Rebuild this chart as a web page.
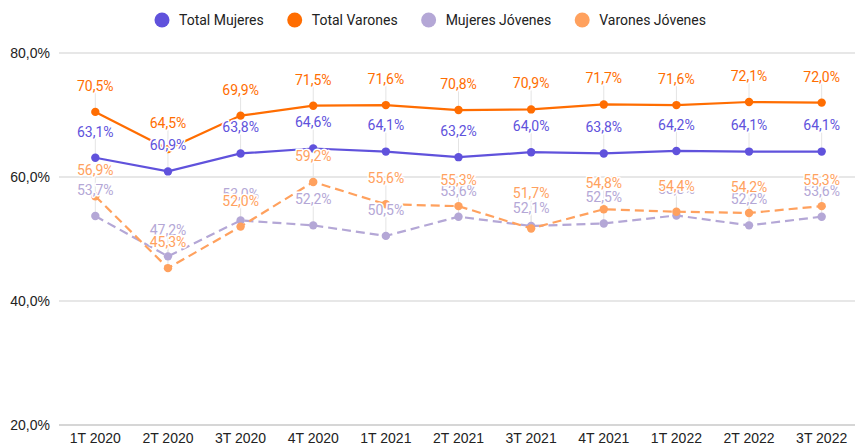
<!DOCTYPE html>
<html>
<head>
<meta charset="utf-8">
<script src="https://cdn.jsdelivr.net/npm/d3@7"></script>
<style>
  body { margin: 0; background: #fff; }
  svg { display: block; }
</style>
</head>
<body>
<div id="chart"></div>
<script>
const quarters = ["1T 2020", "2T 2020", "3T 2020", "4T 2020", "1T 2021", "2T 2021",
  "3T 2021", "4T 2021", "1T 2022", "2T 2022", "3T 2022"];
const seriesNames = ["Total Mujeres", "Total Varones", "Mujeres Jóvenes", "Varones Jóvenes"];
const totalMujeres = [63.1, 60.9, 63.8, 64.6, 64.1, 63.2, 64.0, 63.8, 64.2, 64.1, 64.1];
const totalVarones = [70.5, 64.5, 69.9, 71.5, 71.6, 70.8, 70.9, 71.7, 71.6, 72.1, 72.0];
const mujeresJovenes = [53.7, 47.2, 53.0, 52.2, 50.5, 53.6, 52.1, 52.5, 53.8, 52.2, 53.6];
const varonesJovenes = [56.9, 45.3, 52.0, 59.2, 55.6, 55.3, 51.7, 54.8, 54.4, 54.2, 55.3];
const yTicks = [20, 40, 60, 80];

const colors = ["#6052dc", "#ff6d01", "#b4a7d6", "#ffa15e"];
const dashed = [false, false, true, true];
const series = [totalMujeres, totalVarones, mujeresJovenes, varonesJovenes].map((values, i) => ({
  name: seriesNames[i],
  color: colors[i],
  dashed: dashed[i],
  values: values.map((v, j) => ({ q: quarters[j], v: v })),
}));

const width = 855;
const height = 446;
const margin = { top: 53, right: -3, bottom: 21, left: 59 };

const svg = d3
  .select("#chart")
  .append("svg")
  .attr("width", width)
  .attr("height", height);

const x = d3
  .scaleBand()
  .domain(quarters)
  .range([margin.left, width - margin.right]);

const y = d3
  .scaleLinear()
  .domain([20, 80])
  .range([height - margin.bottom, margin.top]);

const fmt = (v) => d3.format(".1f")(v).replace(".", ",") + "%";
const cx = (d) => x(d.q) + x.bandwidth() / 2;

// gridlines
svg
  .append("g")
  .selectAll("line")
  .data(yTicks)
  .enter()
  .append("line")
  .attr("x1", margin.left)
  .attr("x2", width)
  .attr("y1", (d) => y(d))
  .attr("y2", (d) => y(d))
  .attr("stroke", (d) => (d === 20 ? "#c8c8c8" : "#d0d0d0"))
  .attr("stroke-width", (d) => (d === 20 ? 1.6 : 1.2));

// y axis labels
svg
  .append("g")
  .selectAll("text")
  .data(yTicks)
  .enter()
  .append("text")
  .attr("x", 50)
  .attr("y", (d) => y(d))
  .attr("dy", "0.35em")
  .attr("text-anchor", "end")
  .attr("font-family", "Liberation Sans, Arial, sans-serif")
  .attr("font-size", 14)
  .attr("fill", "#222")
  .text((d) => fmt(d));

// x axis labels
svg
  .append("g")
  .selectAll("text")
  .data(quarters)
  .enter()
  .append("text")
  .attr("x", (d) => x(d) + x.bandwidth() / 2)
  .attr("y", 443)
  .attr("text-anchor", "middle")
  .attr("font-family", "Liberation Sans, Arial, sans-serif")
  .attr("font-size", 14)
  .attr("fill", "#222")
  .text((d) => d);

// labels sit 26px above the point; where the two young series nearly coincide
// the sheet pushes them apart
const labelOffset = (s, d) => {
  const other = s.values === undefined ? null : null;
  if (s.dashed) {
    const a = mujeresJovenes[quarters.indexOf(d.q)];
    const b = varonesJovenes[quarters.indexOf(d.q)];
    if (Math.abs(a - b) < 0.5) {
      return d.v === Math.min(a, b) ? 35 : 18;
    }
  }
  return 26;
};

// leader lines
series.forEach((s) => {
  svg
    .append("g")
    .selectAll("line")
    .data(s.values)
    .enter()
    .append("line")
    .attr("x1", cx)
    .attr("x2", cx)
    .attr("y1", (d) => y(d.v) - labelOffset(s, d) + 7)
    .attr("y2", (d) => y(d.v))
    .attr("stroke", "#e4e4e4")
    .attr("stroke-width", 1);
});

const line = d3
  .line()
  .x(cx)
  .y((d) => y(d.v));

series.forEach((s) => {
  svg
    .append("path")
    .datum(s.values)
    .attr("fill", "none")
    .attr("stroke", s.color)
    .attr("stroke-width", 2.2)
    .attr("stroke-dasharray", s.dashed ? "9,5" : null)
    .attr("d", line);

  svg
    .append("g")
    .selectAll("circle")
    .data(s.values)
    .enter()
    .append("circle")
    .attr("cx", cx)
    .attr("cy", (d) => y(d.v))
    .attr("r", 4.2)
    .attr("fill", s.color);
});

// data labels
series.forEach((s) => {
  svg
    .append("g")
    .selectAll("text")
    .data(s.values)
    .enter()
    .append("text")
    .attr("x", cx)
    .attr("y", (d) => y(d.v) - labelOffset(s, d))
    .attr("dy", "0.35em")
    .attr("text-anchor", "middle")
    .attr("font-family", "Roboto, sans-serif")
    .attr("font-size", 14)
    .attr("fill", s.color)
    .attr("stroke", "#fff")
    .attr("stroke-width", 3)
    .attr("stroke-linejoin", "round")
    .attr("paint-order", "stroke")
    .text((d) => fmt(d.v));
});

// legend
const legend = svg.append("g").attr("font-family", "Roboto, sans-serif").attr("font-size", 14);
let lx = 162;
series.forEach((s) => {
  legend
    .append("circle")
    .attr("cx", lx)
    .attr("cy", 20)
    .attr("r", 7.5)
    .attr("fill", s.color);
  const t = legend
    .append("text")
    .attr("x", lx + 17)
    .attr("y", 20)
    .attr("dy", "0.35em")
    .attr("fill", "#222")
    .text(s.name);
  lx += 17 + t.node().getComputedTextLength() + 31;
});
</script>
</body>
</html>
